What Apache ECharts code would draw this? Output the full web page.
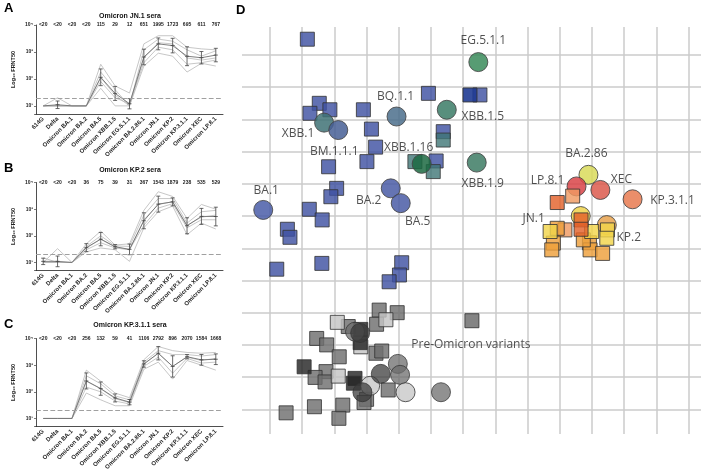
<!doctype html>
<html>
<head>
  <meta charset="UTF-8" />
  <title>Neutralization titres and antigenic map</title>
  <script src="https://cdn.jsdelivr.net/npm/echarts@6.0.0/dist/echarts.min.js"></script>
  <style>
    html, body { margin: 0; padding: 0; background: #ffffff; }
    #chart { width: 701px; height: 469px; }
  </style>
</head>
<body>
  <div id="chart"></div>
  <script>
    // ---- panels A-C : FRNT50 titres per variant ----
    const variants = ["614G", "Delta", "Omicron BA.1", "Omicron BA.2", "Omicron BA.5", "Omicron XBB.1.5",
      "Omicron EG.5.1.1", "Omicron BA.2.86.1", "Omicron JN.1", "Omicron KP.2", "Omicron KP.3.1.1",
      "Omicron XEC", "Omicron LP.8.1"];

    const gmtLabelsA = ["<20", "<20", "<20", "<20", "115", "29", "12", "651", "1995", "1723", "695", "611", "767"];
    const meanA = [10, 11, 10, 10, 115, 29, 12, 651, 1995, 1723, 695, 611, 767];
    const sdA = [0, 0.14, 0, 0, 0.31, 0.26, 0.19, 0.29, 0.22, 0.27, 0.35, 0.23, 0.25];
    const seraA = [
      [10, 20, 10, 10, 350, 55, 30, 2000, 4000, 4000, 1500, 1300, 1200],
      [10, 10, 10, 10, 180, 40, 10, 1200, 3000, 2500, 1200, 700, 1100],
      [10, 10, 10, 10, 110, 25, 10, 600, 2200, 2000, 600, 500, 600],
      [10, 10, 10, 10, 80, 20, 12, 400, 1500, 1200, 350, 400, 500],
      [10, 10, 10, 10, 45, 10, 10, 300, 900, 700, 180, 380, 300]
    ];

    const gmtLabelsB = ["<20", "<20", "<20", "36", "75", "39", "31", "367", "1543", "1879", "238", "535", "529"];
    const meanB = [11, 11, 10, 36, 75, 39, 31, 367, 1543, 1879, 238, 535, 529];
    const sdB = [0.12, 0.2, 0, 0.15, 0.25, 0.08, 0.2, 0.3, 0.3, 0.15, 0.3, 0.3, 0.35];
    const seraB = [
      [10, 33, 10, 50, 150, 45, 50, 900, 4500, 3000, 450, 1500, 1000],
      [15, 10, 10, 40, 100, 42, 40, 600, 2500, 2500, 300, 800, 900],
      [10, 10, 10, 35, 75, 38, 30, 400, 1500, 1900, 250, 500, 600],
      [10, 10, 10, 30, 55, 35, 30, 250, 1100, 1600, 200, 400, 400],
      [10, 10, 10, 25, 35, 30, 11, 200, 800, 1300, 110, 300, 180]
    ];

    const gmtLabelsC = ["<20", "<20", "<20", "256", "132", "59", "41", "1106", "2792", "896", "2070", "1584", "1668"];
    const meanC = [10, 10, 10, 256, 132, 59, 41, 1106, 2792, 896, 2070, 1584, 1668];
    const sdC = [0, 0, 0, 0.3, 0.25, 0.15, 0.1, 0.12, 0.25, 0.4, 0.08, 0.2, 0.2];
    const seraC = [
      [10, 10, 10, 650, 250, 90, 60, 1600, 5000, 3500, 3000, 2800, 3000],
      [10, 10, 10, 400, 200, 70, 50, 1300, 3500, 2500, 2500, 2200, 2500],
      [10, 10, 10, 250, 130, 55, 40, 1100, 2800, 900, 2000, 1500, 1800],
      [10, 10, 10, 150, 100, 45, 35, 900, 2000, 500, 1800, 1200, 1300],
      [10, 10, 10, 90, 50, 30, 30, 700, 1300, 300, 1500, 1000, 650]
    ];

    const detectionLimit = 20;

    // ---- panel D : antigenic map (antigenic units) ----
    const antigens = [
      ["BA.1", -0.21, 6.19], ["XBB.1", 1.68, 8.90], ["BM.1.1.1", 2.12, 8.67], ["BQ.1.1", 3.93, 9.09],
      ["BA.2", 3.75, 6.86], ["BA.5", 4.06, 6.40], ["XBB.1.16", 4.71, 7.62], ["XBB.1.5", 5.49, 9.30],
      ["XBB.1.9", 6.42, 7.66], ["EG.5.1.1", 6.47, 10.78], ["BA.2.86", 9.89, 7.28], ["LP.8.1", 9.52, 6.92],
      ["XEC", 10.26, 6.81], ["KP.3.1.1", 11.26, 6.52], ["JN.1", 9.65, 6.00], ["KP.2", 10.46, 5.72]
    ];
    const blueSquares = [[1.16, 11.49], [1.53, 9.50], [1.24, 9.19], [1.86, 9.30], [2.90, 9.30], [3.15, 8.70],
      [3.28, 8.14], [3.01, 7.69], [1.82, 7.53], [2.07, 6.86], [1.89, 6.60], [1.22, 6.21], [1.62, 5.88],
      [0.54, 5.59], [0.62, 5.34], [4.92, 9.81], [5.38, 8.62], [5.16, 7.71], [6.52, 9.76], [0.21, 4.35],
      [1.61, 4.53], [4.09, 4.55], [4.02, 4.17], [3.70, 3.96]];
    const darkBlueSquares = [[6.21, 9.76]];
    const tealSquares = [[5.38, 8.36], [4.50, 7.69], [5.07, 7.38]];
    const yellowSquares = [[8.70, 5.52], [9.99, 5.52], [10.48, 5.57], [10.46, 5.31]];
    const orangeSquares = [[8.92, 5.62], [8.80, 5.16], [8.75, 4.95], [9.92, 5.17], [9.94, 4.95], [10.33, 4.84], [9.73, 5.26]];
    const lightOrangeSquares = [[9.40, 6.62], [9.16, 5.57]];
    const redOrangeSquares = [[8.92, 6.42], [9.66, 5.88], [9.66, 5.59]];
    const greySquaresMid = [[3.39, 3.08], [3.95, 3.00], [3.31, 2.64], [2.43, 2.57], [1.45, 2.20], [1.76, 2.00],
      [2.15, 1.63], [3.29, 1.74], [3.47, 1.81], [1.74, 1.17], [1.40, 0.99], [1.71, 0.85], [3.67, 0.60],
      [3.00, 0.31], [2.92, 0.21], [2.26, 0.13], [1.38, 0.08], [0.50, -0.11], [2.14, -0.28]];
    const greySquaresDark = [[2.82, 2.48], [2.80, 2.07], [1.06, 1.32], [2.64, 0.96], [2.59, 0.81]];
    const greySquaresLight = [[3.60, 2.78], [2.09, 2.70], [2.82, 1.94], [2.12, 1.03]];
    const greyCirclesMid = [[2.64, 2.41], [3.97, 1.41], [4.04, 1.07], [5.31, 0.53]];
    const greyCirclesDark = [[2.80, 2.37], [3.44, 1.10], [2.87, 0.53]];
    const greyCirclesLight = [[3.11, 0.73], [4.21, 0.53]];
    const preOmicronSerum = [[6.27, 2.75]];

    // styles
    const antigenColors = {
      "BA.1": "#4a5da8", "XBB.1": "#3f7276", "BM.1.1.1": "#475f95", "BQ.1.1": "#4b6f8c", "BA.2": "#4a5ca6",
      "BA.5": "#4a5ca6", "XBB.1.16": "#1c6a42", "XBB.1.5": "#3b7b66", "XBB.1.9": "#3d7b64", "EG.5.1.1": "#3a8b5b",
      "BA.2.86": "#d9da5a", "LP.8.1": "#d94448", "XEC": "#dc5a4d", "KP.3.1.1": "#e77a50", "JN.1": "#efd24a",
      "KP.2": "#e8a24e"
    };
    const labelOffsets = {
      "BA.1": [3, -19], "XBB.1": [-26, 11], "BM.1.1.1": [-4, 22], "BQ.1.1": [-1, -20], "BA.2": [-22, 12],
      "BA.5": [17, 18], "XBB.1.16": [-13, -16], "XBB.1.5": [36, 7], "XBB.1.9": [6, 21], "EG.5.1.1": [5, -22],
      "BA.2.86": [-2, -21], "LP.8.1": [-29, -6], "XEC": [21, -10], "KP.3.1.1": [40, 1], "JN.1": [-47, 3],
      "KP.2": [22, 13]
    };

    const chart = echarts.init(document.getElementById("chart"), null, { renderer: "canvas" });

    const leftLayout = [
      { top: 25, height: 89, letterY: 8, titleY: 16 },
      { top: 182.5, height: 88, letterY: 168, titleY: 170 },
      { top: 338.5, height: 88, letterY: 324, titleY: 325 }
    ];
    const panels = [
      { letter: "A", title: "Omicron JN.1 sera", gmt: gmtLabelsA, mean: meanA, sd: sdA, sera: seraA },
      { letter: "B", title: "Omicron KP.2 sera", gmt: gmtLabelsB, mean: meanB, sd: sdB, sera: seraB },
      { letter: "C", title: "Omicron KP.3.1.1 sera", gmt: gmtLabelsC, mean: meanC, sd: sdC, sera: seraC }
    ];
    const sup = { 1: "\u00b9", 2: "\u00b2", 3: "\u00b3", 4: "\u2074" };
    const axisColor = "#222";

    const option = {
      animation: false,
      textStyle: { fontFamily: "Liberation Sans, Arial, sans-serif" },
      grid: [],
      xAxis: [],
      yAxis: [],
      series: [],
      graphic: []
    };

    panels.forEach((p, i) => {
      const lay = leftLayout[i];
      option.grid.push({ left: 36, width: 187, top: lay.top, height: lay.height, containLabel: false, outerBoundsMode: "none" });
      option.graphic.push({ type: "text", x: 4, y: lay.letterY, style: { text: p.letter, font: "bold 13px Liberation Sans", fill: "#000", verticalAlign: "middle" } });
      option.graphic.push({ type: "text", x: 130, y: lay.titleY, style: { text: p.title, font: "bold 7px Liberation Sans", fill: "#111", align: "center", verticalAlign: "middle" } });

      const xi = option.xAxis.length;
      option.xAxis.push({
        type: "category", gridIndex: i, data: variants,
        axisLine: { lineStyle: { color: axisColor, width: 0.8 } },
        axisTick: { alignWithLabel: true, length: 2, lineStyle: { color: axisColor, width: 0.6 } },
        axisLabel: { rotate: 45, interval: 0, fontSize: 6, fontWeight: "bold", color: "#222", margin: 4 }
      });
      option.xAxis.push({
        type: "category", gridIndex: i, position: "top", data: p.gmt,
        axisLine: { show: false }, axisTick: { show: false },
        axisLabel: { interval: 0, fontSize: 5, fontWeight: "bold", color: "#222", margin: 0, verticalAlign: "middle" }
      });
      option.yAxis.push({
        type: "log", logBase: 10, gridIndex: i, min: 5, max: 10000,
        name: "Log\u2081\u2080 FRNT50", nameLocation: "middle", nameGap: 20,
        nameTextStyle: { fontSize: 5.5, fontWeight: "bold", color: "#222" },
        axisLine: { show: true, lineStyle: { color: axisColor, width: 0.8 } },
        axisTick: { show: true, length: 2, lineStyle: { color: axisColor, width: 0.6 } },
        minorTick: { show: false },
        splitLine: { show: false },
        axisLabel: {
          fontSize: 5, fontWeight: "bold", color: "#222", margin: 3,
          formatter: (v) => {
            const lg = Math.log10(v);
            const e = Math.round(lg);
            return Math.abs(lg - e) < 0.01 && sup[e] ? "10" + sup[e] : "";
          }
        }
      });

      p.sera.forEach((s) => {
        option.series.push({
          type: "line", xAxisIndex: xi, yAxisIndex: i, data: s, symbol: "none", silent: true,
          lineStyle: { color: "#b9b9b9", width: 0.8 }, z: 2
        });
      });

      option.series.push({
        type: "line", xAxisIndex: xi, yAxisIndex: i, data: p.mean, symbol: "none", silent: true,
        lineStyle: { color: "#707070", width: 0.9 }, z: 3,
        markLine: {
          silent: true, symbol: "none", label: { show: false },
          lineStyle: { color: "#a0a0a0", type: "dashed", width: 1.2 },
          data: [{ yAxis: detectionLimit }]
        }
      });

      option.series.push({
        type: "custom", xAxisIndex: xi, yAxisIndex: i, silent: true, z: 4,
        data: p.mean.map((m, k) => [k, m / Math.pow(10, p.sd[k]), m * Math.pow(10, p.sd[k]), m]),
        encode: { x: 0, y: [1, 2, 3] },
        renderItem: (params, api) => {
          const lo = api.coord([api.value(0), api.value(1)]);
          const hi = api.coord([api.value(0), api.value(2)]);
          const mid = api.coord([api.value(0), api.value(3)]);
          if (Math.abs(lo[1] - hi[1]) < 0.5) return;
          const st = { stroke: "#444", lineWidth: 0.8 };
          const w = 2;
          return {
            type: "group",
            children: [
              { type: "line", shape: { x1: lo[0], y1: lo[1], x2: hi[0], y2: hi[1] }, style: st },
              { type: "line", shape: { x1: lo[0] - w, y1: lo[1], x2: lo[0] + w, y2: lo[1] }, style: st },
              { type: "line", shape: { x1: hi[0] - w, y1: hi[1], x2: hi[0] + w, y2: hi[1] }, style: st },
              { type: "line", shape: { x1: mid[0] - w, y1: mid[1], x2: mid[0] + w, y2: mid[1] }, style: st }
            ]
          };
        }
      });
    });

    // ---- panel D grids ----
    const gridLine = { color: "#cbcbcb", width: 1.5 };
    option.graphic.push({ type: "text", x: 236, y: 10, style: { text: "D", font: "bold 13px Liberation Sans", fill: "#000", verticalAlign: "middle" } });

    // grid 3: vertical lines
    option.grid.push({ left: 270, right: 12.4, top: 27, bottom: 35, containLabel: false, outerBoundsMode: "none" });
    option.xAxis.push({
      type: "value", gridIndex: 3, min: 0, max: 13, interval: 1,
      axisLine: { show: false }, axisTick: { show: false }, axisLabel: { show: false },
      splitLine: { show: true, lineStyle: gridLine }
    });
    option.yAxis.push({ type: "value", gridIndex: 3, min: 0, max: 1, show: false });

    // grid 4: horizontal lines
    option.grid.push({ left: 242, right: 0, top: 55, bottom: 59.7, containLabel: false, outerBoundsMode: "none" });
    option.xAxis.push({ type: "value", gridIndex: 4, min: 0, max: 1, show: false });
    option.yAxis.push({
      type: "value", gridIndex: 4, min: 0, max: 11, interval: 1,
      axisLine: { show: false }, axisTick: { show: false }, axisLabel: { show: false },
      splitLine: { show: true, lineStyle: gridLine }
    });

    // grid 5: map data
    option.grid.push({ left: 270, right: 12.4, top: 55, bottom: 59.7, containLabel: false, outerBoundsMode: "none" });
    option.xAxis.push({ type: "value", gridIndex: 5, min: 0, max: 13, show: false });
    option.yAxis.push({ type: "value", gridIndex: 5, min: 0, max: 11, show: false });

    const mapSeries = (points, symbol, size, color, opacity) => ({
      type: "scatter", xAxisIndex: 8, yAxisIndex: 5, clip: false, silent: true,
      symbol: symbol, symbolSize: size, data: points,
      itemStyle: { color: color, opacity: opacity || 0.82, borderColor: "#333", borderWidth: 1 }
    });

    option.series.push(
      mapSeries(greySquaresMid, "rect", 14, "#6f6f6f"),
      mapSeries(greySquaresLight, "rect", 14, "#c4c4c4"),
      mapSeries(greySquaresDark, "rect", 14, "#262626"),
      mapSeries(greyCirclesMid, "circle", 19, "#6c6c6c", 0.75),
      mapSeries(greyCirclesLight, "circle", 19, "#c8c8c8", 0.8),
      mapSeries(greyCirclesDark, "circle", 19, "#3c3c3c", 0.75),
      mapSeries(blueSquares, "rect", 14, "#3f52a2"),
      mapSeries(darkBlueSquares, "rect", 14, "#1f3b94", 0.9),
      mapSeries(tealSquares, "rect", 14, "#3f7575", 0.8)
    );

    option.series.push({
      type: "scatter", xAxisIndex: 8, yAxisIndex: 5, clip: false, silent: true,
      symbol: "rect", symbolSize: 14, data: preOmicronSerum.map((v) => ({ name: "Pre-Omicron variants", value: v })),
      itemStyle: { color: "#6f6f6f", opacity: 0.85, borderColor: "#333", borderWidth: 1 },
      label: { show: true, formatter: "{b}", position: "inside", offset: [-1, 24], color: "#333", fontSize: 12, fontFamily: "Open Sans" }
    });

    option.series.push({
      type: "scatter", xAxisIndex: 8, yAxisIndex: 5, clip: false, silent: true,
      symbol: "circle", symbolSize: 19,
      data: antigens.map(([name, x, y]) => ({
        name: name, value: [x, y],
        itemStyle: { color: antigenColors[name] },
        label: { offset: labelOffsets[name] }
      })),
      itemStyle: { opacity: 0.85, borderColor: "#444", borderWidth: 1 },
      label: { show: true, formatter: "{b}", position: "inside", color: "#333", fontSize: 12, fontFamily: "Open Sans" },
      z: 3
    });

    option.series.push(
      Object.assign(mapSeries(lightOrangeSquares, "rect", 14, "#ef9a62"), { z: 4 }),
      Object.assign(mapSeries(orangeSquares, "rect", 14, "#eea03c"), { z: 4 }),
      Object.assign(mapSeries(yellowSquares, "rect", 14, "#f1d44a"), { z: 4 }),
      Object.assign(mapSeries(redOrangeSquares, "rect", 14, "#e3622b"), { z: 4 })
    );

    chart.setOption(option);
  </script>
</body>
</html>
